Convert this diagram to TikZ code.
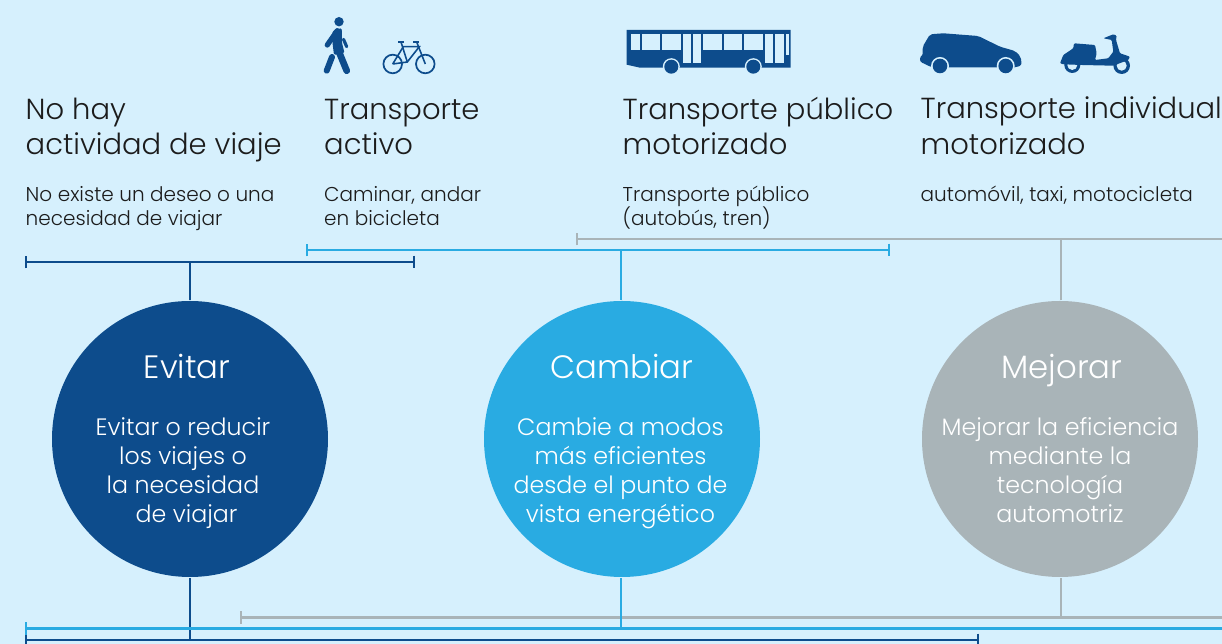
\documentclass[tikz,border=0pt]{standalone}
\usepackage{fontspec}
\usepackage{tikz}
\usetikzlibrary{arrows.meta}
\setmainfont{Poppins Light}
\definecolor{fondo}{HTML}{D6F0FD}
\definecolor{azul}{HTML}{0D4C8C}
\definecolor{celeste}{HTML}{29ABE2}
\definecolor{gris}{HTML}{A9B4B8}
\definecolor{tinta}{HTML}{1C1C1C}
\tikzset{
  titulo/.style={anchor=north west,inner sep=0pt,align=left,text=tinta,font=\fontsize{8.25}{9.96}\selectfont},
  detalle/.style={anchor=north west,inner sep=0pt,align=left,text=tinta,font=\fontsize{5.7}{6.83}\selectfont},
  circulo/.style={circle,inner sep=0pt,minimum size=27.6mm},
  cabeza/.style={anchor=base,inner sep=0pt,text=white,font=\fontsize{9.2}{10}\selectfont},
  cuerpo/.style={anchor=north,inner sep=0pt,align=center,text=white,font=\fontsize{6.75}{8.25}\selectfont},
  barra/.style={line width=0.8pt,{Bar[width=3.6pt,line width=0.6pt]}-{Bar[width=3.6pt,line width=0.6pt]}},
  barraL/.style={line width=0.8pt,{Bar[width=3.6pt,line width=0.6pt]}-},
  guia/.style={line width=0.75pt}
}
\begin{document}
\begin{tikzpicture}[x=0.1mm,y=0.1mm]
\fill [fondo] (0,0) rectangle (1222,-644);
\useasboundingbox (0,0) rectangle (1222,-644);
% peaton
\fill [azul] (339,-21.7) circle (4.7);
\fill [azul,rounded corners=0.4pt] (332.5,-31) -- (341.7,-28) -- (342,-43) -- (344.5,-53) -- (334,-55) -- (332.5,-43) -- cycle;
\draw [azul,line width=1.9pt,line cap=round] (337,-47) -- (346.7,-70.7);
\draw [azul,line width=1.7pt,line cap=round] (332,-57) -- (326.7,-70.7);
\draw [azul,line width=1.5pt,line cap=round] (337.3,-30.7) -- (327.3,-45);
\draw [azul,line width=0.9pt,line cap=round] (343.5,-39.3) -- (346.7,-46.7);
% bici
\draw [azul,line width=0.5pt] (392.7,-64) circle (9.3);
\draw [azul,line width=0.5pt] (425.3,-64) circle (9.3);
\draw [azul,line width=0.45pt] (392.7,-64) -- (403.3,-46.7) -- (419.3,-46.7) -- (407.3,-62) -- (392.7,-64);
\draw [azul,line width=0.45pt] (401,-42) -- (407.3,-62);
\draw [azul,line width=0.45pt] (416.7,-42) -- (425.3,-64);
\draw [azul,line width=0.6pt] (398,-42) -- (404,-42);
\draw [azul,line width=0.6pt] (413.3,-42) -- (419,-42);
% bus
\fill [azul] (626.7,-30) -- (790.7,-30) -- (790.7,-67.7) -- (640,-67.7) -- (626.7,-64.7) -- cycle;
\fill [fondo] (631.3,-34.3) rectangle (639.7,-50.3);
\fill [fondo] (641.7,-34.3) rectangle (660.3,-50.3);
\fill [fondo] (662.3,-34.3) rectangle (681,-50.3);
\fill [fondo] (683,-34.3) rectangle (691.3,-63.3);
\fill [fondo] (693,-34.3) rectangle (701.3,-63.3);
\fill [fondo] (703.3,-34.3) rectangle (721.7,-50.3);
\fill [fondo] (723.7,-34.3) rectangle (742.3,-50.3);
\fill [fondo] (744.3,-34.3) rectangle (763,-50.3);
\fill [fondo] (765,-34.3) rectangle (773.3,-63.3);
\fill [fondo] (775.3,-34.3) rectangle (783.7,-63.3);
\fill [fondo] (785.7,-34.3) rectangle (788.7,-55);
\fill [fondo] (671.3,-66.7) circle (8.5);
\fill [fondo] (753.3,-66.7) circle (8.5);
\fill [azul] (671.3,-66.7) circle (7);
\fill [azul] (753.3,-66.7) circle (7);
% auto
\fill [azul,rounded corners=0.6pt] (920,-56.7) -- (922.7,-55.7) -- (922.7,-46.7) -- (930,-34.3) -- (943.3,-33.3) -- (978.3,-36) -- (1000,-46.7) -- (1015,-51) -- (1020.7,-56.7) -- (1021.7,-65) -- (1016.7,-67.3) -- (931.7,-67.3) -- (920,-61.7) -- cycle;
\fill [fondo] (940,-66) circle (9);
\fill [fondo] (1005.7,-66) circle (9);
\fill [azul] (940,-66) circle (7.3);
\fill [azul] (1005.7,-66) circle (7.3);
% moto
\fill [azul] (1072.3,-65) circle (8);
\fill [fondo] (1072.3,-65) circle (5);
\fill [azul] (1121.7,-65.7) circle (8.3);
\fill [fondo] (1121.7,-65.7) circle (5);
\fill [azul,rounded corners=0.3pt] (1060,-63.3) -- (1063.3,-55) -- (1073.3,-48.3) -- (1074,-43.3) -- (1095,-45) -- (1096.7,-53.3) -- (1095,-60) -- (1108.3,-58.3) -- (1113.3,-51.7) -- (1111.7,-40) -- (1103.3,-38.3) -- (1113.3,-34.3) -- (1116.7,-35.7) -- (1116,-40) -- (1120,-53.3) -- (1130,-56.7) -- (1128.3,-60) -- (1113.3,-65.7) -- (1081.7,-65) -- (1063.3,-64.3) -- cycle;
% textos de arriba
\node [titulo] (noviaje) at (25,-97) {No hay\\actividad de viaje};
\node [titulo] (activo) at (323.5,-99) {Transporte\\activo};
\node [titulo] (publico) at (622,-96) {Transporte público\\motorizado};
\node [titulo] (individual) at (920,-96.5) {Transporte individual\\motorizado};
\node [detalle] (noviajeT) at (25,-186) {No existe un deseo o una\\necesidad de viajar};
\node [detalle] (activoT) at (323.5,-186) {Caminar, andar\\en bicicleta};
\node [detalle] (publicoT) at (622,-185) {Transporte público\\(autobús, tren)};
\node [detalle] (individualT) at (920,-185) {automóvil, taxi, motocicleta};
% circulos
\node [circulo,fill=azul] (evitar) at (190,-439) {};
\node [circulo,fill=celeste] (cambiar) at (622,-439) {};
\node [circulo,fill=gris] (mejorar) at (1060,-439) {};
\node [cabeza] (evitarT) at (187,-379) {Evitar};
\node [cabeza] (cambiarT) at (622,-379) {Cambiar};
\node [cabeza] (mejorarT) at (1062,-379) {Mejorar};
\node [cuerpo] (evitarC) at (183,-417) {Evitar o reducir\\los viajes o\\la necesidad\\\hspace*{2pt}de viajar};
\node [cuerpo] (cambiarC) at (620.5,-417) {Cambie a modos\\más eficientes\\desde el punto de\\vista energético};
\node [cuerpo] (mejorarC) at (1060,-417) {Mejorar la eficiencia\\mediante la\\tecnología\\automotriz};
% barras de arriba
\coordinate (a1) at (25,-262);
\coordinate (a2) at (415,-262);
\coordinate (a3) at (190,-262);
\coordinate (b1) at (306,-250);
\coordinate (b2) at (890,-250);
\coordinate (b3) at (621,-250);
\coordinate (c1) at (576,-239);
\coordinate (c2) at (1222,-239);
\coordinate (c3) at (1061,-239);
\draw [gris,barraL] (c1) -- (c2);
\draw [celeste,barra] (b1) -- (b2);
\draw [azul,barra] (a1) -- (a2);
\draw [gris,guia] (c3) -- (c3 |- mejorar.north);
\draw [celeste,guia] (b3) -- (b3 |- cambiar.north);
\draw [azul,guia] (a3) -- (a3 |- evitar.north);
% barras de abajo
\coordinate (d1) at (25,-640);
\coordinate (d2) at (979,-640);
\coordinate (d3) at (190,-640);
\coordinate (e1) at (25,-628.5);
\coordinate (e2) at (1222,-628.5);
\coordinate (e3) at (621,-628.5);
\coordinate (f1) at (240,-617.5);
\coordinate (f2) at (1222,-617.5);
\coordinate (f3) at (1061,-617.5);
\draw [gris,barraL] (f1) -- (f2);
\draw [gris,guia] (f3) -- (f3 |- mejorar.south);
\draw [azul,guia] (d3) -- (d3 |- evitar.south);
\draw [celeste,guia] (e3) -- (e3 |- cambiar.south);
\draw [azul,barra] (d1) -- (d2);
\draw [celeste,barraL] (e1) -- (e2);
\end{tikzpicture}
\end{document}
